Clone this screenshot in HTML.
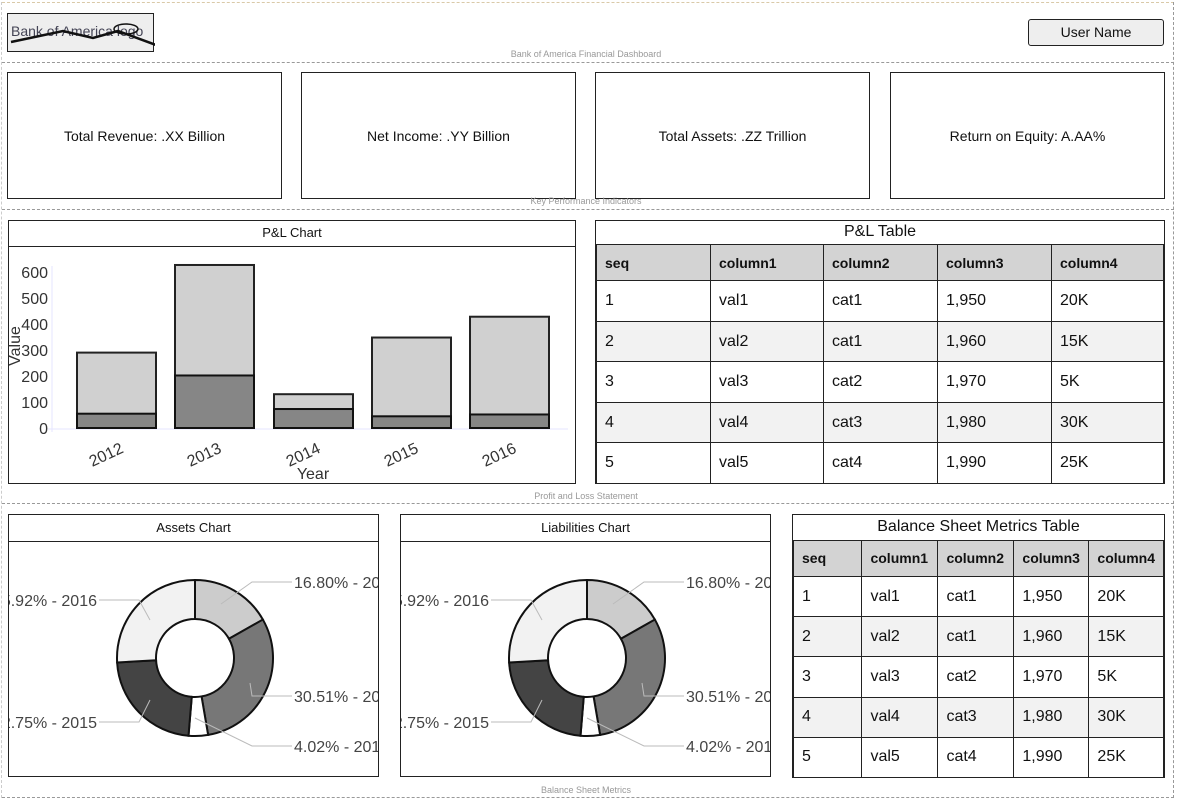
<!DOCTYPE html>
<html><head><meta charset="utf-8"><style>
body{margin:0;width:1181px;height:807px;background:#fff;position:relative;overflow:hidden;font-family:"Liberation Sans",sans-serif;color:#111}
.a{position:absolute;box-sizing:border-box}
.dh{position:absolute;left:2px;width:1172px;border-top:1px dashed #999;height:0}
.box{border:1px solid #222;background:#fff}
.kpi{display:flex;align-items:center;justify-content:center;font-size:14px}
.cap{position:absolute;font-size:9px;color:#999;text-align:center;width:400px}
table{border-collapse:collapse;width:100%;height:100%;font-size:16px}
td{border:1px solid #222;padding:0 8px}
tr.h td{background:#d3d3d3;font-weight:bold;font-size:14px}
tr.g td{background:#f2f2f2}
</style></head><body>
<div class="dh" style="top:2px;border-color:#d9c9a8"></div>
<div class="a" style="left:1173px;top:2px;height:796px;border-left:1px dashed #999"></div>
<div class="a" style="left:1px;top:2px;height:796px;border-left:1px dashed #ccc"></div>
<div class="dh" style="top:62px"></div>
<div class="dh" style="top:209px"></div>
<div class="dh" style="top:503px"></div>
<div class="dh" style="top:797px"></div>

<div class="a" style="left:7px;top:13px;width:147px;height:39px;border:1px solid #222;background:#eee;font-size:14px;color:#445;padding:9px 0 0 3px">Bank of America logo
<svg style="position:absolute;left:0;top:0" width="147" height="39"><path d="M3 28 L55 17 L85 24 L110 17 L148 31" stroke="#111" stroke-width="2.5" fill="none"/><ellipse cx="118" cy="15" rx="12" ry="5" stroke="#111" stroke-width="1.5" fill="none"/></svg></div>
<div class="a" style="left:1028px;top:19px;width:136px;height:27px;border:1px solid #222;border-radius:3px;background:#eee;font-size:14px;text-align:center;line-height:25px">User Name</div>
<div class="cap" style="left:386px;top:49px">Bank of America Financial Dashboard</div>

<div class="a box kpi" style="left:7px;top:72px;width:275px;height:127px">Total Revenue: .XX Billion</div>
<div class="a box kpi" style="left:301px;top:72px;width:275px;height:127px">Net Income: .YY Billion</div>
<div class="a box kpi" style="left:595px;top:72px;width:275px;height:127px">Total Assets: .ZZ Trillion</div>
<div class="a box kpi" style="left:890px;top:72px;width:275px;height:127px">Return on Equity: A.AA%</div>
<div class="cap" style="left:386px;top:196px">Key Performance Indicators</div>

<div class="a box" style="left:8px;top:220px;width:568px;height:264px">
<div style="height:25px;border-bottom:1px solid #222;text-align:center;font-size:13px;line-height:24px">P&amp;L Chart</div></div>
<div class="cap" style="left:386px;top:491px">Profit and Loss Statement</div>

<div class="a" style="left:595px;top:220px;width:570px;height:264px;border:1px solid #222">
<div style="height:23px;text-align:center;font-size:16px;line-height:22px">P&amp;L Table</div>
<table style="height:240px"><colgroup><col style="width:114px"><col style="width:113px"><col style="width:114px"><col style="width:114px"><col></colgroup>
<tr class="h"><td>seq</td><td>column1</td><td>column2</td><td>column3</td><td>column4</td></tr>
<tr><td>1</td><td>val1</td><td>cat1</td><td>1,950</td><td>20K</td></tr>
<tr class="g"><td>2</td><td>val2</td><td>cat1</td><td>1,960</td><td>15K</td></tr>
<tr><td>3</td><td>val3</td><td>cat2</td><td>1,970</td><td>5K</td></tr>
<tr class="g"><td>4</td><td>val4</td><td>cat3</td><td>1,980</td><td>30K</td></tr>
<tr><td>5</td><td>val5</td><td>cat4</td><td>1,990</td><td>25K</td></tr></table></div>

<div class="a box" style="left:8px;top:514px;width:371px;height:263px;overflow:hidden">
<div style="height:26px;border-bottom:1px solid #222;text-align:center;font-size:13px;line-height:25px">Assets Chart</div></div>
<div class="a box" style="left:400px;top:514px;width:371px;height:263px;overflow:hidden">
<div style="height:26px;border-bottom:1px solid #222;text-align:center;font-size:13px;line-height:25px">Liabilities Chart</div></div>

<div class="a" style="left:792px;top:514px;width:373px;height:264px;border:1px solid #222">
<div style="height:25px;text-align:center;font-size:16px;line-height:24px">Balance Sheet Metrics Table</div>
<table style="height:238px"><colgroup><col style="width:69px"><col style="width:76px"><col style="width:76px"><col style="width:75px"><col></colgroup>
<tr class="h"><td>seq</td><td>column1</td><td>column2</td><td>column3</td><td>column4</td></tr>
<tr><td>1</td><td>val1</td><td>cat1</td><td>1,950</td><td>20K</td></tr>
<tr class="g"><td>2</td><td>val2</td><td>cat1</td><td>1,960</td><td>15K</td></tr>
<tr><td>3</td><td>val3</td><td>cat2</td><td>1,970</td><td>5K</td></tr>
<tr class="g"><td>4</td><td>val4</td><td>cat3</td><td>1,980</td><td>30K</td></tr>
<tr><td>5</td><td>val5</td><td>cat4</td><td>1,990</td><td>25K</td></tr></table></div>
<div class="cap" style="left:386px;top:785px">Balance Sheet Metrics</div>

<svg class="a" style="left:0;top:0" width="1181" height="807" font-family="Liberation Sans,sans-serif">
<g id="pl"></g><g id="d1"></g><g id="d2"></g></svg>

<script>
var s='';var y0=428,k=0.26;
s+='<line x1="52" y1="266" x2="52" y2="432" stroke="#e6e6ff"/><line x1="48" y1="429" x2="568" y2="429" stroke="#e6e6ff"/>';
for(var v=0;v<=600;v+=100){s+='<text x="48" y="'+(y0-v*k+6)+'" font-size="16" fill="#333" text-anchor="end">'+v+'</text>';}
var d=[[77,290,55,2012],[175,627,202,2013],[274,130,73,2014],[372,348,45,2015],[470,428,52,2016]];
d.forEach(function(b){var w=79;s+='<rect x="'+b[0]+'" y="'+(y0-b[1]*k)+'" width="'+w+'" height="'+(b[1]*k)+'" fill="#d0d0d0" stroke="#222" stroke-width="2"/>';
s+='<rect x="'+b[0]+'" y="'+(y0-b[2]*k)+'" width="'+w+'" height="'+(b[2]*k)+'" fill="#868686" stroke="#111" stroke-width="2"/>';
var cx=b[0]+w/2;s+='<text transform="translate('+(cx+8)+',452) rotate(-25)" font-size="16" fill="#333" text-anchor="end">'+b[3]+'</text>';});
s+='<text x="313" y="479" font-size="16" fill="#333" text-anchor="middle">Year</text>';
s+='<text transform="translate(20,346) rotate(-90)" font-size="16" fill="#333" text-anchor="middle">Value</text>';
document.getElementById('pl').innerHTML=s;
function donut(id,cx,cy,clipX){var R=78,r=39,p=[[16.80,'#ccc'],[30.51,'#777'],[4.02,'#fff'],[22.75,'#444'],[25.92,'#f2f2f2']];var a=0,o='<clipPath id="c'+id+'"><rect x="'+(clipX+1)+'" y="541" width="369" height="235"/></clipPath><g clip-path="url(#c'+id+')">';
function pt(ang,rad){var t=ang*2*Math.PI/100;return [cx+rad*Math.sin(t),cy-rad*Math.cos(t)];}
p.forEach(function(q){var a2=a+q[0];var A=pt(a,R),B=pt(a2,R),C=pt(a2,r),D=pt(a,r);var lg=q[0]>50?1:0;
o+='<path d="M'+A+' A'+R+','+R+' 0 '+lg+' 1 '+B+' L'+C+' A'+r+','+r+' 0 '+lg+' 0 '+D+'Z" fill="'+q[1]+'" stroke="#111" stroke-width="2"/>';a=a2;});
var L=[[cx+99,588,'16.80% - 2012',cx+26,'start',604],[cx+99,702,'30.51% - 2013',cx+55,'start',683],[cx+99,752,'4.02% - 2014',cx,'start',718],[cx-98,606,'25.92% - 2016',cx-45,'end',620],[cx-98,728,'22.75% - 2015',cx-45,'end',700]];
L.forEach(function(l){o+='<text x="'+l[0]+'" y="'+l[1]+'" font-size="16" fill="#444" text-anchor="'+l[4]+'">'+l[2]+'</text>';
var lx=l[4]=='start'?l[0]-2:l[0]+2;var mx=l[4]=='start'?lx-40:lx+40;o+='<polyline points="'+lx+','+(l[1]-6)+' '+mx+','+(l[1]-6)+' '+l[3]+','+l[5]+'" stroke="#bbb" fill="none"/>';});
o+='</g>';document.getElementById(id).innerHTML=o;}
donut('d1',195,658,8);donut('d2',587,658,400);
</script>
</body></html>
